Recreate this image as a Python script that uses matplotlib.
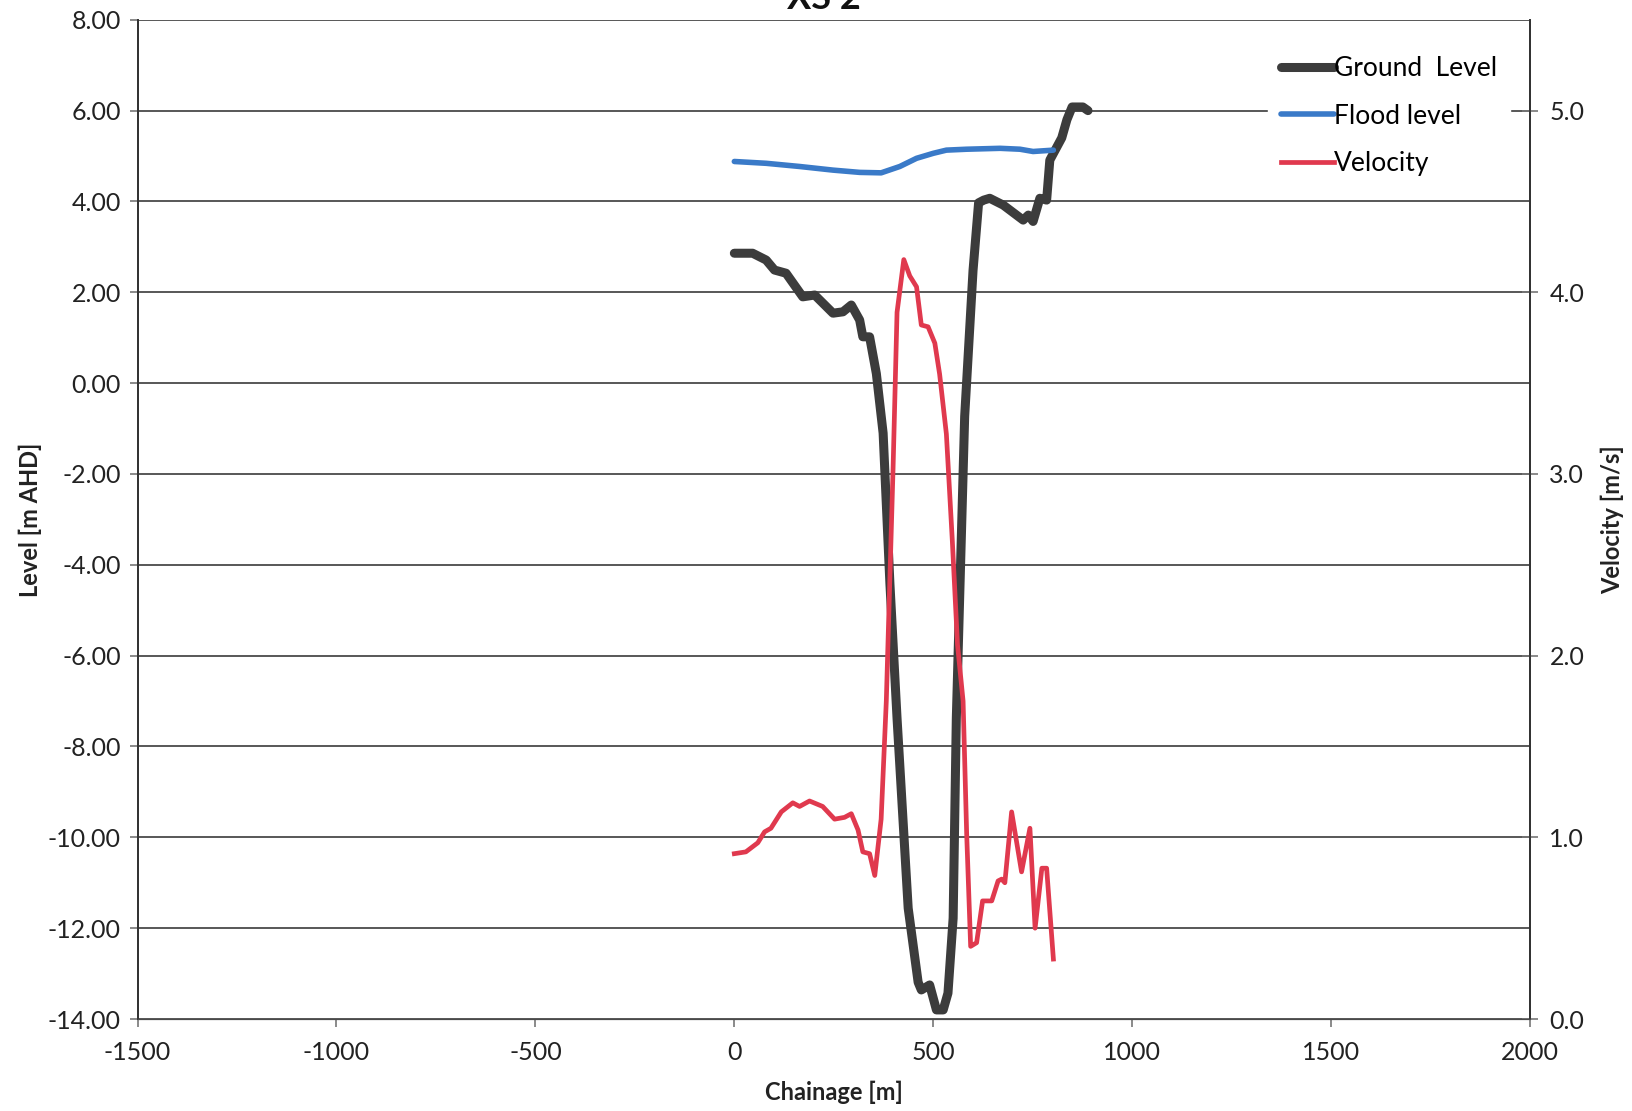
import matplotlib
matplotlib.use("Agg")
import matplotlib.pyplot as plt
from matplotlib.ticker import FormatStrFormatter

plt.rcParams['font.family'] = ['Lato', 'DejaVu Sans']
plt.rcParams['axes.unicode_minus'] = False

# Ground level profile
ground_ch = [0, 46, 80, 101, 130, 172, 202, 248, 273, 294, 315, 323, 340, 357, 374,
             391, 409, 437, 462, 470, 491, 508, 525, 537, 550, 558, 579, 600, 614,
             627, 642, 676, 726, 739, 751, 768, 785, 793, 823, 836, 849, 876, 889]
ground_lv = [2.86, 2.86, 2.71, 2.49, 2.42, 1.90, 1.94, 1.54, 1.57, 1.72, 1.39, 1.02, 1.02, 0.21, -1.10,
             -4.40, -7.38, -11.56, -13.19, -13.36, -13.25, -13.80, -13.80, -13.43, -11.78, -7.38, -0.73, 2.48, 3.97,
             4.03, 4.07, 3.92, 3.59, 3.70, 3.56, 4.07, 4.03, 4.91, 5.40, 5.80, 6.08, 6.08, 6.00]

# Flood level
flood_ch = [0, 80, 164, 248, 315, 369, 416, 458, 500, 533, 584, 668, 718, 751, 802]
flood_lv = [4.88, 4.84, 4.77, 4.69, 4.64, 4.63, 4.77, 4.95, 5.06, 5.13, 5.15, 5.17, 5.15, 5.10, 5.13]

# Velocity
vel_ch = [0, 29, 59, 76, 92, 118, 147, 164, 189, 222, 252, 277, 294, 311, 323, 340, 353, 369,
          382, 399, 409, 426, 441, 458, 470, 487, 504, 516, 533, 548, 561, 575, 584, 594, 609,
          624, 647, 663, 672, 680, 697, 722, 743, 756, 773, 785, 802]
vel_v = [0.91, 0.92, 0.97, 1.03, 1.05, 1.14, 1.19, 1.17, 1.20, 1.17, 1.10, 1.11, 1.13, 1.04, 0.92, 0.91, 0.79, 1.10,
         1.75, 3.03, 3.89, 4.18, 4.09, 4.03, 3.82, 3.81, 3.72, 3.55, 3.22, 2.63, 2.06, 1.75, 1.02, 0.40, 0.42,
         0.65, 0.65, 0.76, 0.77, 0.75, 1.14, 0.81, 1.05, 0.50, 0.83, 0.83, 0.33]

level_ticks = [8, 6, 4, 2, 0, -2, -4, -6, -8, -10, -12, -14]
vel_ticks = [0, 1, 2, 3, 4, 5]
x_ticks = [-1500, -1000, -500, 0, 500, 1000, 1500, 2000]

fig = plt.figure(figsize=(16.32, 11.11), dpi=100)
ax = fig.add_axes([0.0843, 0.0828, 0.8532, 0.8994])
ax2 = ax.twinx()

grid_c = '#4a4a4a'
ax.set_xlim(-1500, 2000)
ax.set_ylim(-14, 8)
ax.set_yticks(level_ticks)
ax.set_xticks(x_ticks)
ax.yaxis.set_major_formatter(FormatStrFormatter('%.2f'))
for y in level_ticks:
    ax.axhline(y, color=grid_c, lw=1.3, zorder=0)

l1, = ax.plot(ground_ch, ground_lv, color='#3c3c3c', lw=6.5, solid_capstyle='round',
              solid_joinstyle='round', label='Ground  Level', zorder=3)
l2, = ax.plot(flood_ch, flood_lv, color='#3a7ac8', lw=4, solid_capstyle='round',
              label='Flood level', zorder=3)

ax2.set_ylim(0, 5.5)
ax2.set_yticks(vel_ticks)
ax2.yaxis.set_major_formatter(FormatStrFormatter('%.1f'))
l3, = ax2.plot(vel_ch, vel_v, color='#e0394e', lw=3.4, label='Velocity', zorder=3)

for a in (ax, ax2):
    a.spines['top'].set_visible(False)
    a.spines['left'].set_color('#333333')
    a.spines['right'].set_color('#333333')
    a.spines['bottom'].set_color(grid_c)
    a.spines['left'].set_linewidth(1.3)
    a.spines['right'].set_linewidth(1.3)

ax.tick_params(axis='y', direction='out', length=6, width=1.2, color='#777777', labelsize=18, pad=6,
               labelcolor='#222222')
ax.tick_params(axis='x', direction='out', length=6, width=1.2, color='#777777', labelsize=18, pad=10,
               labelcolor='#222222')
ax2.tick_params(axis='y', direction='inout', length=12, width=1.2, color='#777777', labelsize=18, pad=8,
                labelcolor='#222222')

ax.set_xlabel('Chainage [m]', fontsize=17, fontweight='bold', color='#222222', labelpad=12)
ax.set_ylabel('Level [m AHD]', fontsize=17, fontweight='bold', color='#222222', labelpad=4)
ax2.set_ylabel('Velocity [m/s]', fontsize=17, fontweight='bold', color='#222222', labelpad=12)

leg = ax2.legend(handles=[l1, l2, l3], loc='upper right', bbox_to_anchor=(0.995, 0.99),
                 fontsize=19, frameon=True, handlelength=2.0, handletextpad=0.0,
                 labelspacing=0.85, borderpad=0.5)
leg.get_frame().set_facecolor('white')
leg.get_frame().set_edgecolor('white')
leg.get_frame().set_alpha(1)

fig.text(0.505, 1.0 - 9 / 1111, 'XS 2', ha='center', va='baseline', fontsize=26,
         fontweight='bold', color='#111111')

fig.savefig('out.png', dpi=100, facecolor='white')
